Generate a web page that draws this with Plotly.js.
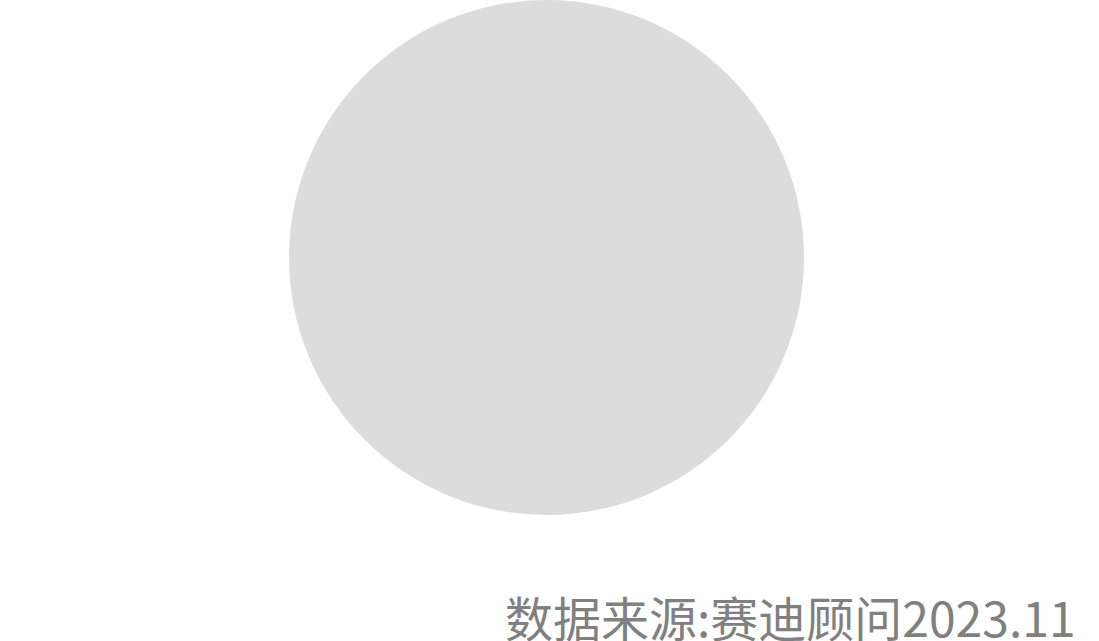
<!DOCTYPE html>
<html>
<head>
<meta charset="utf-8">
<script src="https://cdn.plot.ly/plotly-3.0.1.min.js"></script>
<style>
  html, body { margin: 0; padding: 0; background: #fff; }
  #chart { width: 1099px; height: 641px; }
</style>
</head>
<body>
<div id="chart"></div>
<script>
// slice data (single, unlabeled slice)
const labels = ['合计'];
const values = [100];
const sliceColors = ['#dcdcdc'];
const sourceNote = '数据来源:赛迪顾问2023.11';

(function () {
  const W = 1099, H = 641;

  const trace = {
    type: 'pie',
    labels: labels,
    values: values,
    marker: { colors: sliceColors, line: { width: 0 } },
    textinfo: 'none',
    hoverinfo: 'none',
    sort: false,
    showlegend: false,
    domain: {
      x: [289 / W, 804 / W],
      y: [1 - 515 / H, 1]
    }
  };

  const layout = {
    width: W,
    height: H,
    margin: { l: 0, r: 0, t: 0, b: 0 },
    paper_bgcolor: '#ffffff',
    showlegend: false,
    font: { family: 'Noto Sans CJK SC, Noto Sans, sans-serif' },
    annotations: [{
      text: sourceNote,
      xref: 'paper', yref: 'paper',
      x: 1078 / W, y: 25 / H,
      xanchor: 'right', yanchor: 'middle',
      showarrow: false,
      font: { size: 48, color: '#808080', family: 'Noto Sans CJK SC' }
    }]
  };

  Plotly.newPlot('chart', [trace], layout, { displayModeBar: false, staticPlot: true });
})();
</script>
</body>
</html>
